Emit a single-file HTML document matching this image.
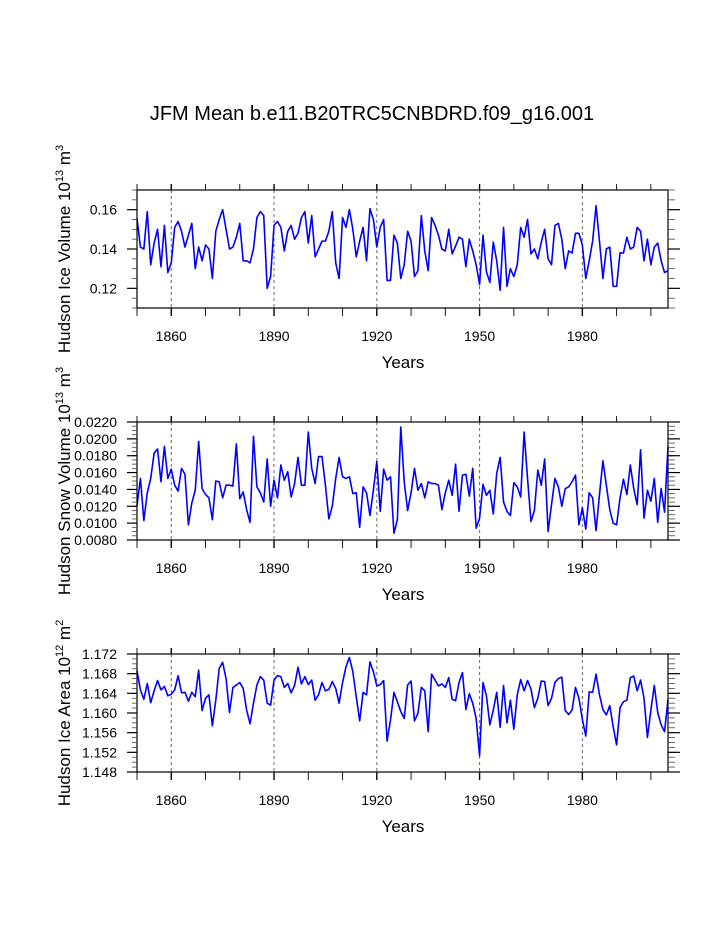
<!DOCTYPE html>
<html>
<head>
<meta charset="utf-8">
<style>
  html,body{margin:0;padding:0;background:#fff;}
  svg{display:block;font-family:"Liberation Sans",Arial,sans-serif;}
</style>
</head>
<body>
<svg id="chart" width="723" height="935" viewBox="0 0 723 935" xmlns="http://www.w3.org/2000/svg">
  <rect width="723" height="935" fill="#fff"/>
  <text x="372" y="120" font-size="20" text-anchor="middle" fill="#000">JFM Mean b.e11.B20TRC5CNBDRD.f09_g16.001</text>
</svg>
<script>
const years = [];
for (let y = 1850; y <= 2005; y++) years.push(y);

const iceVolume = [
0.1555,0.141,0.140,0.159,0.132,0.143,0.150,0.131,0.152,0.128,
0.133,0.151,0.154,0.149,0.141,0.147,0.153,0.130,0.141,0.134,
0.142,0.140,0.125,0.149,0.155,0.160,0.150,0.140,0.141,0.146,
0.153,0.134,0.134,0.133,0.140,0.156,0.159,0.157,0.120,0.126,
0.152,0.154,0.151,0.139,0.149,0.152,0.145,0.148,0.156,0.159,
0.143,0.157,0.136,0.140,0.144,0.144,0.149,0.159,0.133,0.125,
0.156,0.151,0.160,0.150,0.136,0.144,0.151,0.134,0.1605,0.155,
0.141,0.151,0.155,0.124,0.124,0.147,0.143,0.125,0.132,0.149,
0.144,0.126,0.129,0.157,0.139,0.129,0.156,0.152,0.147,0.140,
0.139,0.150,0.1375,0.1415,0.146,0.145,0.131,0.145,0.139,0.132,
0.122,0.147,0.1285,0.123,0.1435,0.134,0.119,0.151,0.121,0.130,
0.126,0.132,0.151,0.146,0.155,0.1375,0.140,0.135,0.1435,0.150,
0.135,0.132,0.152,0.153,0.145,0.130,0.139,0.138,0.148,0.148,
0.142,0.125,0.134,0.144,0.162,0.144,0.125,0.140,0.141,0.121,
0.121,0.138,0.138,0.146,0.140,0.141,0.151,0.149,0.134,0.145,
0.132,0.141,0.143,0.134,0.128,0.129];

const snowVolume = [
0.0121,0.0153,0.0103,0.0136,0.0153,0.0183,0.0188,0.0149,0.0191,0.0153,
0.0164,0.0145,0.0138,0.0165,0.0158,0.0098,0.0124,0.0139,0.0197,0.0141,
0.0134,0.0130,0.0104,0.0150,0.0149,0.0130,0.0145,0.0145,0.0144,0.0194,
0.0129,0.0137,0.0116,0.0101,0.0203,0.0143,0.0136,0.0125,0.0176,0.0120,
0.0151,0.0130,0.0169,0.0151,0.0161,0.0131,0.0147,0.0178,0.0145,0.0145,
0.0208,0.0165,0.0147,0.0179,0.0179,0.0145,0.0105,0.0120,0.0153,0.0178,
0.0155,0.0153,0.0155,0.0135,0.0136,0.0095,0.0143,0.0136,0.0109,0.0139,
0.0173,0.0114,0.0164,0.0151,0.0155,0.0088,0.0104,0.0214,0.0149,0.0115,
0.0136,0.0165,0.0139,0.0147,0.0130,0.0149,0.0147,0.0147,0.0145,0.0116,
0.0136,0.0151,0.0133,0.0170,0.0114,0.0157,0.0158,0.0132,0.0165,0.0094,
0.0106,0.0146,0.0133,0.0139,0.0111,0.0159,0.0178,0.0125,0.0114,0.0109,
0.0148,0.0143,0.0131,0.0208,0.0153,0.0102,0.0115,0.0163,0.0145,0.0176,
0.0090,0.0122,0.0153,0.0143,0.0120,0.0141,0.0143,0.0149,0.0157,0.0098,
0.0118,0.0093,0.0136,0.0130,0.0091,0.0134,0.0174,0.0145,0.0116,0.0100,
0.0098,0.0130,0.0152,0.0134,0.0169,0.0141,0.0122,0.0187,0.0106,0.0139,
0.0126,0.0153,0.0101,0.0141,0.0113,0.0191];

const iceArea = [
1.1686,1.1647,1.1628,1.1660,1.1621,1.1645,1.1666,1.1647,1.1654,1.1635,
1.1638,1.1647,1.1676,1.1641,1.1642,1.1624,1.1642,1.1633,1.1687,1.1605,
1.1630,1.1637,1.1574,1.1626,1.1691,1.1703,1.1670,1.1601,1.1652,1.1657,
1.1662,1.1650,1.1606,1.1578,1.1620,1.1657,1.1674,1.1667,1.1620,1.1616,
1.1667,1.1676,1.1674,1.1652,1.1660,1.1641,1.1656,1.1693,1.1659,1.1674,
1.1658,1.1667,1.1626,1.1637,1.1662,1.1645,1.1648,1.1664,1.1650,1.1620,
1.1662,1.1694,1.1713,1.1684,1.1633,1.1584,1.1642,1.1637,1.1704,1.1684,
1.1655,1.1658,1.1666,1.1543,1.1586,1.1642,1.1623,1.1603,1.1589,1.1657,
1.1665,1.1584,1.1599,1.1652,1.1645,1.1562,1.1679,1.1667,1.1655,1.1659,
1.1652,1.1672,1.1628,1.1625,1.1662,1.1682,1.1607,1.1639,1.1620,1.1589,
1.1513,1.1662,1.1635,1.1576,1.1606,1.1642,1.1571,1.1656,1.1580,1.1626,
1.1567,1.1637,1.1668,1.1645,1.1666,1.1649,1.1611,1.1630,1.1665,1.1664,
1.1615,1.1630,1.1662,1.1670,1.1673,1.1605,1.1597,1.1606,1.1652,1.1630,
1.1587,1.1553,1.1643,1.1642,1.1679,1.1637,1.1607,1.1596,1.1615,1.1572,
1.1535,1.1611,1.1623,1.1626,1.1672,1.1675,1.1645,1.1667,1.1630,1.1550,
1.1606,1.1656,1.1601,1.1576,1.1562,1.1628];

const xTickLabels = ["1860","1890","1920","1950","1980"];
const iceVolTicks = ["0.12","0.14","0.16"];
const snowTicks = ["0.0080","0.0100","0.0120","0.0140","0.0160","0.0180","0.0200","0.0220"];
const areaTicks = ["1.148","1.152","1.156","1.160","1.164","1.168","1.172"];

const NS = "http://www.w3.org/2000/svg";
const svg = document.getElementById("chart");
function mk(tag, attrs, parent) {
  const e = document.createElementNS(NS, tag);
  for (const k in attrs) e.setAttribute(k, attrs[k]);
  (parent || svg).appendChild(e);
  return e;
}

const X0 = 137, X1 = 668, YR0 = 1850, YR1 = 2005;
function xScale(yr) { return X0 + (yr - YR0) / (YR1 - YR0) * (X1 - X0); }

const panels = [
  {key:"ice-volume", top:190, bot:308, ymin:0.11, ymax:0.17, data:iceVolume, ticks:iceVolTicks, minor:0.005,
   title:["Hudson Ice Volume 10","13"," m","3"]},
  {key:"snow-volume", top:422, bot:540, ymin:0.008, ymax:0.022, data:snowVolume, ticks:snowTicks, minor:0.0005,
   title:["Hudson Snow Volume 10","13"," m","3"]},
  {key:"ice-area", top:654, bot:772, ymin:1.148, ymax:1.172, data:iceArea, ticks:areaTicks, minor:0.001,
   title:["Hudson Ice Area 10","12"," m","2"]}
];

panels.forEach(p => {
  const g = mk("g", {});
  
  
  const yScale = v => p.bot - (v - p.ymin) / (p.ymax - p.ymin) * (p.bot - p.top);

  // dashed reference lines
  xTickLabels.forEach(t => {
    const x = xScale(+t);
    const l = mk("line", {x1:x, x2:x, y1:p.top, y2:p.bot, stroke:"#666", "stroke-width":1, "stroke-dasharray":"3,3"}, g);
    
    
  });

  // series line
  let d = "";
  p.data.forEach((v, i) => { d += (i ? "L" : "M") + xScale(years[i]).toFixed(2) + "," + yScale(v).toFixed(2); });
  const path = mk("path", {d:d, fill:"none", stroke:"#0000ff", "stroke-width":1.6, "stroke-linejoin":"round"}, g);
  
  

  // frame
  const fr = mk("rect", {x:X0, y:p.top, width:X1 - X0, height:p.bot - p.top, fill:"none", stroke:"#000", "stroke-width":1.2}, g);
  
  

  // x ticks every 10 yrs
  for (let yr = 1850; yr <= 2005; yr += 10) {
    const x = xScale(yr);
    const lab = (yr - 1860) % 30 === 0;
    const w = lab ? 1.4 : 0.9;
    mk("line", {x1:x, x2:x, y1:p.top - 6, y2:p.top, stroke:"#000", "stroke-width":w}, g);
    mk("line", {x1:x, x2:x, y1:p.bot, y2:p.bot + 8, stroke:"#000", "stroke-width":w}, g);
  }
  xTickLabels.forEach(t => {
    const tx = mk("text", {x:xScale(+t), y:p.bot + 33, "font-size":14, "text-anchor":"middle", fill:"#000"}, g);
    tx.textContent = t;
    
    
  });
  const yt = mk("text", {x:403, y:p.bot + 60, "font-size":17, "text-anchor":"middle", fill:"#000"}, g);
  yt.textContent = "Years";
  
  

  // y minor ticks
  const nMinor = Math.round((p.ymax - p.ymin) / p.minor);
  for (let i = 0; i <= nMinor; i++) {
    const y = yScale(p.ymin + i * p.minor);
    mk("line", {x1:X0 - 5, x2:X0, y1:y, y2:y, stroke:"#444", "stroke-width":0.8}, g);
    mk("line", {x1:X1, x2:X1 + 7, y1:y, y2:y, stroke:"#444", "stroke-width":0.8}, g);
  }
  // y major ticks + labels
  p.ticks.forEach(t => {
    const y = yScale(+t);
    mk("line", {x1:X0 - 10, x2:X0, y1:y, y2:y, stroke:"#000", "stroke-width":1.2}, g);
    mk("line", {x1:X1, x2:X1 + 12, y1:y, y2:y, stroke:"#000", "stroke-width":1.2}, g);
    const tx = mk("text", {x:117, y:y + 5, "font-size":14, "text-anchor":"end", fill:"#000"}, g);
    tx.textContent = t;
    
    
  });

  // y axis title
  const cy = (p.top + p.bot) / 2;
  const tt = mk("text", {x:0, y:0, "font-size":17, "text-anchor":"middle", fill:"#000",
    transform:"translate(70," + cy + ") rotate(-90)"}, g);
  
  
  const parts = p.title;
  const s1 = mk("tspan", {}, tt); s1.textContent = parts[0];
  const s2 = mk("tspan", {dy:-7, "font-size":11}, tt); s2.textContent = parts[1];
  const s3 = mk("tspan", {dy:7}, tt); s3.textContent = parts[2];
  const s4 = mk("tspan", {dy:-7, "font-size":11}, tt); s4.textContent = parts[3];
});
</script>
</body>
</html>
